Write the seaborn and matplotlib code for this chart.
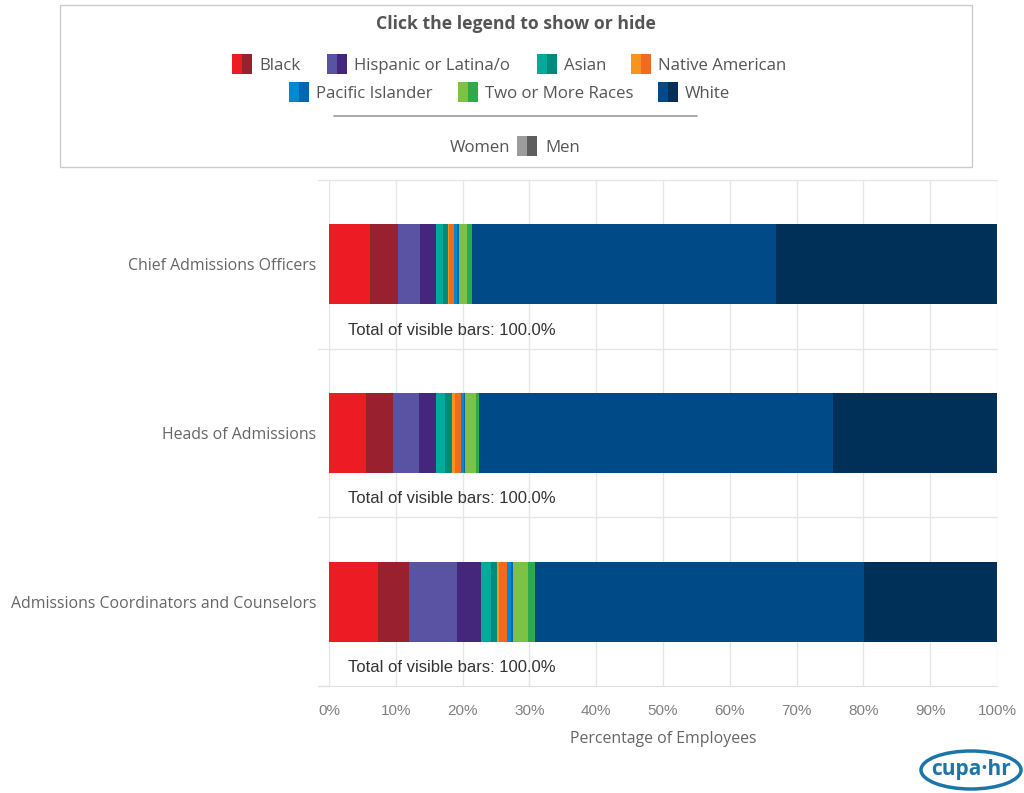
import numpy as np
import pandas as pd
import seaborn as sns
import matplotlib.pyplot as plt
from matplotlib.patches import Rectangle, Ellipse
from matplotlib.ticker import FuncFormatter

categories = ["Chief Admissions Officers", "Heads of Admissions",
              "Admissions Coordinators and Counselors"]
segments = ["Black Women", "Black Men", "Hispanic Women", "Hispanic Men",
            "Asian Women", "Asian Men", "Native Women", "Native Men",
            "Pacific Women", "Pacific Men", "Two Women", "Two Men",
            "White Women", "White Men"]
chief = [6.2, 4.1, 3.3, 2.4, 1.0, 0.8, 0.2, 0.7, 0.5, 0.2, 1.3, 0.7, 45.5, 33.1]
heads = [5.5, 4.1, 3.9, 2.5, 1.4, 1.0, 0.5, 0.9, 0.4, 0.2, 1.6, 0.5, 53.0, 24.5]
coord = [7.4, 4.6, 7.2, 3.5, 1.5, 1.0, 0.3, 1.2, 0.5, 0.3, 2.3, 1.1, 49.2, 19.9]
seg_colors = ["#ed1c24", "#98202f", "#5a52a3", "#44267b", "#00ab9c", "#00897c",
              "#f7941d", "#f26a21", "#0089d0", "#0068b3", "#7dc242", "#2eaa4a",
              "#004b87", "#003057"]
legend_races = ["Black", "Hispanic or Latina/o", "Asian", "Native American",
                "Pacific Islander", "Two or More Races", "White"]
x_ticks = [0, 10, 20, 30, 40, 50, 60, 70, 80, 90, 100]

W, H = 1024, 793
fig = plt.figure(figsize=(W / 100, H / 100), dpi=100)
sns.set_style("white")
plt.rcParams['font.family'] = ['Open Sans', 'DejaVu Sans']

def fx(px):
    return px / W

def fy(py):
    return 1 - py / H

ax = fig.add_axes([fx(329), fy(686), fx(997) - fx(329), (686 - 180) / H])

df = pd.DataFrame({"category": categories})
vals = np.array([chief, heads, coord])
cum = np.cumsum(vals, axis=1)
for j in range(len(segments) - 1, -1, -1):
    df["end"] = cum[:, j]
    sns.barplot(data=df, x="end", y="category", order=categories, orient="h",
                color=seg_colors[j], saturation=1, width=0.475, linewidth=0,
                ax=ax, zorder=3)

ax.set_xlim(0, 100)
ax.set_ylim(2.5, -0.5)
ax.set_xticks(x_ticks)
ax.xaxis.set_major_formatter(FuncFormatter(lambda v, p: f"{int(v)}%"))
ax.set_yticks([0, 1, 2])
ax.set_yticklabels(categories)
ax.tick_params(axis='y', length=0, pad=9, labelsize=11.4, labelcolor="#666666")
ax.tick_params(axis='x', length=8, color="#e0e0e0", labelsize=11,
               labelcolor="#808080", pad=5)
for lab in ax.get_xticklabels():
    lab.set_family("Liberation Sans")
ax.grid(axis='x', color="#e6e6e6", linewidth=1, zorder=0)
for s in ["top", "right", "left"]:
    ax.spines[s].set_visible(False)
ax.spines["bottom"].set_color("#e0e0e0")
ax.set_xlabel("Percentage of Employees", color="#666666", fontsize=11.4,
              labelpad=9)
ax.set_ylabel("")
for yb in [-0.5, 0.5, 1.5]:
    ax.plot([-1.6, 100], [yb, yb], color="#e6e6e6", lw=1, clip_on=False, zorder=1)
ax.plot([-1.6, 0], [2.5, 2.5], color="#e0e0e0", lw=1, clip_on=False, zorder=1)
for i in range(len(categories)):
    ax.text(2.9, i + 0.39, "Total of visible bars: 100.0%", fontsize=12,
            family="Liberation Sans", color="#333333", va="center", ha="left",
            zorder=5)

# Legend box
fig.patches.append(Rectangle((fx(60), fy(167)), fx(972) - fx(60), (167 - 5) / H,
                             transform=fig.transFigure, fill=False,
                             edgecolor="#cccccc", lw=1))
fig.text(fx(516), fy(24), "Click the legend to show or hide", ha="center",
         va="center", fontsize=12.7, fontweight="bold", color="#555555")

def swatch(x, y, c1, c2):
    fig.patches.append(Rectangle((fx(x), fy(y + 10)), 10 / W, 20 / H,
                                 transform=fig.transFigure, color=c1, lw=0))
    fig.patches.append(Rectangle((fx(x + 10), fy(y + 10)), 10 / W, 20 / H,
                                 transform=fig.transFigure, color=c2, lw=0))

items = [(232, 64), (327, 64), (537, 64), (631, 64),
         (289, 92), (458, 92), (658, 92)]
for k, (name, (sx, sy)) in enumerate(zip(legend_races, items)):
    swatch(sx, sy, seg_colors[2 * k], seg_colors[2 * k + 1])
    fig.text(fx(sx + 27), fy(sy + 2), name, ha="left", va="center",
             fontsize=12.1, color="#555555")

fig.add_artist(plt.Line2D([fx(334), fx(697)], [fy(116), fy(116)],
                          color="#999999", lw=1.2))
swatch(517, 146, "#9c9c9c", "#5e5e5e")
fig.text(fx(510), fy(148), "Women", ha="right", va="center", fontsize=12.1,
         color="#555555")
fig.text(fx(545), fy(148), "Men", ha="left", va="center", fontsize=12.1,
         color="#555555")

# Logo
fig.patches.append(Ellipse((fx(971), fy(770)), 100 / W, 38 / H,
                           transform=fig.transFigure, fill=False,
                           edgecolor="#1b75a8", lw=2.5))
fig.text(fx(971), fy(769), "cupa·hr", ha="center", va="center", fontsize=15,
         color="#1b75a8", fontweight="bold")

fig.savefig("out.png", dpi=100)
